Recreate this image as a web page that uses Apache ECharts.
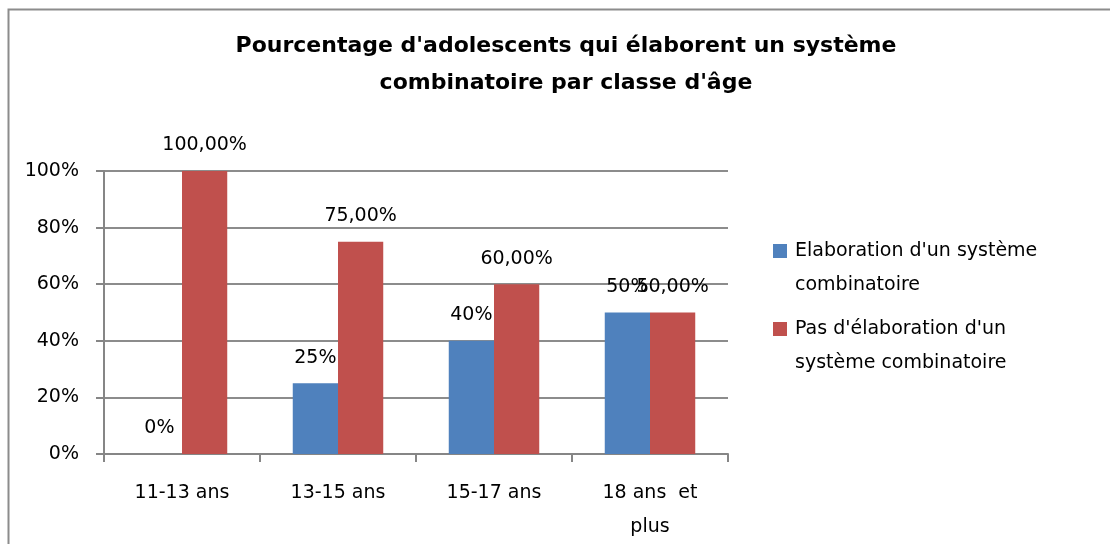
<!DOCTYPE html>
<html><head><meta charset="utf-8">
<script src="https://cdn.jsdelivr.net/npm/echarts@6/dist/echarts.min.js"></script>
<style>html,body{margin:0;padding:0;background:#fff}#c{width:1110px;height:544px}</style>
</head><body><div id="c"></div>
<script>
const titleText = "Pourcentage d'adolescents qui élaborent un système\ncombinatoire par classe d'âge";
const categories = ["11-13 ans", "13-15 ans", "15-17 ans", "18 ans  et\nplus"];
const seriesNames = ["Elaboration d'un système\ncombinatoire", "Pas d'élaboration d'un\nsystème combinatoire"];
const elaboration = [0, 25, 40, 50];
const elaborationLabels = ["0%", "25%", "40%", "50%"];
const pasElaboration = [100, 75, 60, 50];
const pasElaborationLabels = ["100,00%", "75,00%", "60,00%", "50,00%"];
const yTicks = [0, 20, 40, 60, 80, 100];

const font = "DejaVu Sans";
const fs = 19;
const chart = echarts.init(document.getElementById('c'));
chart.setOption({
  animation: false,
  textStyle: {fontFamily: font},
  title: {
    text: titleText, left: 561, textAlign: 'center', top: 23,
    textStyle: {fontFamily: font, fontSize: 22, fontWeight: 'bold', color: '#000', lineHeight: 37}
  },
  graphic: [{type: 'rect', shape: {x: 8.5, y: 9.5, width: 1200, height: 600}, style: {fill: 'none', stroke: '#8c8c8c', lineWidth: 2}, silent: true, z: -1}],
  legend: {
    orient: 'vertical', left: 773, top: 200, itemWidth: 14, itemHeight: 14, itemGap: -24,
    icon: 'rect', padding: 0,
    formatter: name => '\u00a0\n' + name,
    textStyle: {fontFamily: font, fontSize: fs, color: '#000', lineHeight: 34, padding: [0, 0, 0, 3]}
  },
  grid: {left: 104, right: 382, top: 171, bottom: 90, containLabel: false},
  xAxis: {
    type: 'category', data: categories,
    axisLine: {lineStyle: {color: '#868686', width: 2}},
    axisTick: {show: true, length: 8, lineStyle: {color: '#868686', width: 2}},
    axisLabel: {fontFamily: font, fontSize: fs, color: '#000', margin: 22, lineHeight: 34}
  },
  yAxis: {
    type: 'value', min: 0, max: 100, interval: 20,
    axisLine: {show: true, lineStyle: {color: '#868686', width: 2}},
    axisTick: {show: true, length: 8, lineStyle: {color: '#868686', width: 2}},
    splitLine: {lineStyle: {color: '#8c8c8c', width: 2}},
    axisLabel: {fontFamily: font, fontSize: fs, color: '#000', margin: 25,
      formatter: v => yTicks.includes(v) ? v + '%' : ''}
  },
  series: [
    {name: seriesNames[0], type: 'bar', data: elaboration, barGap: '0%', barCategoryGap: '42%',
     itemStyle: {color: '#4F81BD'},
     label: {show: true, position: 'top', distance: 16, fontFamily: font, fontSize: fs, color: '#000',
       formatter: p => elaborationLabels[p.dataIndex]}},
    {name: seriesNames[1], type: 'bar', data: pasElaboration, barGap: '0%', barCategoryGap: '42%',
     itemStyle: {color: '#C0504D'},
     label: {show: true, position: 'top', distance: 16, fontFamily: font, fontSize: fs, color: '#000',
       formatter: p => pasElaborationLabels[p.dataIndex]}}
  ]
});
</script></body></html>
